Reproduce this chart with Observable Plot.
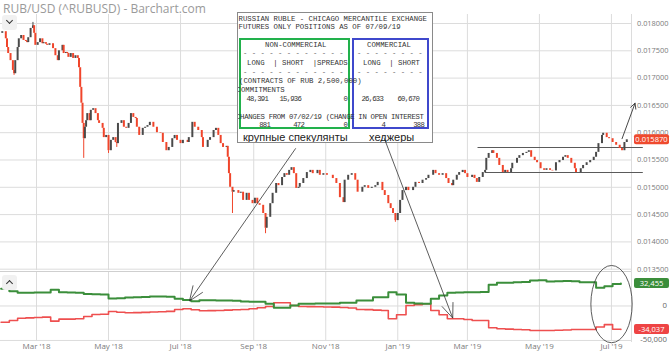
<!DOCTYPE html>
<html><head><meta charset="utf-8">
<script src="https://cdn.jsdelivr.net/npm/d3@7"></script>
<script src="https://cdn.jsdelivr.net/npm/@observablehq/plot@0.6"></script>
<style>
body{margin:0;background:#fff;}
#wrap{position:relative;width:670px;height:351px;overflow:hidden;background:#fff;font-family:"Open Sans",sans-serif;}
#title{position:absolute;left:3px;top:1px;font-size:12px;line-height:16px;color:#9a9a9a;white-space:nowrap;}
#main,#lower{position:absolute;left:0;}
#main{top:0;} #lower{top:270px;}
#overlay{position:absolute;left:0;top:0;pointer-events:none;}
.btn{position:absolute;left:2px;width:15px;height:15px;background:#f1f1f1;border-radius:3px;}
.chev{position:absolute;left:5px;width:4px;height:4px;border-right:1.4px solid #333;border-bottom:1.4px solid #333;}
#cot{position:absolute;left:237px;top:12px;width:194px;height:129px;border:1px solid #8a8a8a;background:#fff;overflow:hidden;font-family:"Liberation Mono",monospace;font-size:7.3px;color:#333;}
#cot span{position:absolute;white-space:pre;line-height:8px;}
#cot .r{transform:translateX(-100%);letter-spacing:-0.8px;}
#cot .box{position:absolute;box-sizing:border-box;border:2px solid;}
#cot .ru{font-family:"Liberation Sans",Arial,sans-serif;font-size:11px;line-height:14px;color:#222;}
#cot .dash{color:#666;}
.ylab{position:absolute;right:3px;font-size:7.8px;line-height:10px;color:#666;white-space:nowrap;z-index:5;}
</style></head>
<body>
<div id="wrap">
  <div id="main"></div>
  <div id="lower"></div>
  <div id="title">RUB/USD (^RUBUSD) - Barchart.com</div>
  <div class="btn" style="top:15px"><div class="chev" style="top:3px;transform:rotate(45deg)"></div></div>
  <div class="btn" style="top:275px"><div class="chev" style="top:6px;transform:rotate(-135deg)"></div></div>
  <div id="cot">
    <div class="box" style="left:1px;top:25px;width:111px;height:91px;border-color:#22b14c"></div>
    <div class="box" style="left:114px;top:25px;width:77px;height:91px;border-color:#3f48cc"></div>
    <span style="left:0.5px;top:1.5px">RUSSIAN RUBLE - CHICAGO MERCANTILE EXCHANGE</span>
    <span style="left:0.5px;top:10px">FUTURES ONLY POSITIONS AS OF 07/09/19</span>
    <span style="left:27px;top:28px">NON-COMMERCIAL</span>
    <span style="left:129px;top:28px">COMMERCIAL</span>
    <span class="dash" style="left:5px;top:36px">- - - - - - - - - - - -</span>
    <span class="dash" style="left:119px;top:36px">- - - - - - - -</span>
    <span style="left:9px;top:46px">LONG  | SHORT  |SPREADS</span>
    <span style="left:125px;top:46px">LONG  | SHORT</span>
    <span class="dash" style="left:5px;top:55px">- - - - - - - - - - - -</span>
    <span class="dash" style="left:119px;top:55px">- - - - - - - -</span>
    <span style="left:1px;top:64px">(CONTRACTS OF RUB 2,500,000)</span>
    <span style="left:-1.5px;top:73px">COMMITMENTS</span>
    <span class="r" style="left:30px;top:82px">48,391</span>
    <span class="r" style="left:63px;top:82px">15,936</span>
    <span class="r" style="left:109px;top:82px">0</span>
    <span class="r" style="left:145px;top:82px">26,633</span>
    <span class="r" style="left:181px;top:82px">60,670</span>
    <span style="left:-2px;top:100px;letter-spacing:-0.3px">CHANGES FROM 07/02/19 (CHANGE IN OPEN INTEREST</span>
    <span class="r" style="left:32px;top:108px">881</span>
    <span class="r" style="left:66px;top:108px">472</span>
    <span class="r" style="left:109px;top:108px">0</span>
    <span class="r" style="left:147px;top:108px">4</span>
    <span class="r" style="left:186px;top:108px">388</span>
    <span class="ru" style="left:5px;top:117px">крупные спекулянты</span>
    <span class="ru" style="left:131px;top:117px">хеджеры</span>
  </div>
  <svg id="overlay" width="670" height="351"></svg>
</div>
<script>
// ---- price candles (closes) ----
const candleDates = ["2018-01-30","2018-01-31","2018-02-03","2018-02-04","2018-02-05","2018-02-07","2018-02-09","2018-02-10","2018-02-11","2018-02-13","2018-02-14","2018-02-16","2018-02-18","2018-02-20","2018-02-21","2018-02-22","2018-02-24","2018-02-26","2018-02-27","2018-02-28","2018-03-02","2018-03-04","2018-03-06","2018-03-07","2018-03-09","2018-03-10","2018-03-12","2018-03-15","2018-03-17","2018-03-19","2018-03-20","2018-03-23","2018-03-24","2018-03-26","2018-03-27","2018-03-28","2018-03-30","2018-04-01","2018-04-03","2018-04-05","2018-04-06","2018-04-07","2018-04-08","2018-04-09","2018-04-10","2018-04-11","2018-04-12","2018-04-13","2018-04-15","2018-04-16","2018-04-18","2018-04-20","2018-04-22","2018-04-23","2018-04-26","2018-04-27","2018-04-29","2018-05-01","2018-05-03","2018-05-05","2018-05-07","2018-05-08","2018-05-09","2018-05-12","2018-05-14","2018-05-16","2018-05-18","2018-05-20","2018-05-22","2018-05-24","2018-05-25","2018-05-27","2018-05-30","2018-06-01","2018-06-03","2018-06-05","2018-06-08","2018-06-11","2018-06-14","2018-06-16","2018-06-19","2018-06-21","2018-06-24","2018-06-26","2018-06-28","2018-07-01","2018-07-03","2018-07-07","2018-07-08","2018-07-11","2018-07-13","2018-07-16","2018-07-19","2018-07-20","2018-07-24","2018-07-26","2018-07-29","2018-07-31","2018-08-02","2018-08-04","2018-08-06","2018-08-09","2018-08-10","2018-08-11","2018-08-12","2018-08-14","2018-08-15","2018-08-17","2018-08-19","2018-08-21","2018-08-23","2018-08-26","2018-08-28","2018-08-31","2018-09-02","2018-09-04","2018-09-06","2018-09-09","2018-09-11","2018-09-12","2018-09-15","2018-09-17","2018-09-20","2018-09-22","2018-09-25","2018-09-27","2018-09-29","2018-10-01","2018-10-03","2018-10-05","2018-10-07","2018-10-09","2018-10-10","2018-10-13","2018-10-16","2018-10-19","2018-10-21","2018-10-25","2018-10-27","2018-10-30","2018-11-02","2018-11-05","2018-11-07","2018-11-10","2018-11-13","2018-11-16","2018-11-17","2018-11-20","2018-11-23","2018-11-26","2018-11-28","2018-12-02","2018-12-04","2018-12-07","2018-12-10","2018-12-13","2018-12-15","2018-12-19","2018-12-21","2018-12-24","2018-12-26","2018-12-28","2018-12-30","2019-01-01","2019-01-03","2019-01-05","2019-01-08","2019-01-10","2019-01-14","2019-01-16","2019-01-19","2019-01-22","2019-01-25","2019-01-27","2019-01-31","2019-02-02","2019-02-05","2019-02-08","2019-02-11","2019-02-13","2019-02-16","2019-02-17","2019-02-20","2019-02-22","2019-02-25","2019-02-27","2019-03-01","2019-03-05","2019-03-07","2019-03-09","2019-03-11","2019-03-14","2019-03-16","2019-03-17","2019-03-19","2019-03-22","2019-03-23","2019-03-26","2019-03-28","2019-03-31","2019-04-02","2019-04-04","2019-04-07","2019-04-08","2019-04-12","2019-04-14","2019-04-17","2019-04-20","2019-04-22","2019-04-24","2019-04-27","2019-04-29","2019-05-02","2019-05-05","2019-05-07","2019-05-10","2019-05-12","2019-05-15","2019-05-18","2019-05-21","2019-05-23","2019-05-25","2019-05-28","2019-05-31","2019-06-01","2019-06-05","2019-06-07","2019-06-10","2019-06-13","2019-06-16","2019-06-18","2019-06-20","2019-06-23","2019-06-24","2019-06-27","2019-06-29","2019-07-02","2019-07-05","2019-07-08","2019-07-10","2019-07-12","2019-07-14"];
const candleClose = [0.01782,0.01785,0.01772,0.01756,0.01745,0.01732,0.01714,0.01708,0.01732,0.01756,0.01772,0.01778,0.01769,0.01767,0.01765,0.01774,0.01791,0.01796,0.01782,0.01760,0.01765,0.01772,0.01763,0.01765,0.01762,0.01760,0.01763,0.01754,0.01741,0.01732,0.01750,0.01760,0.01745,0.01747,0.01745,0.01738,0.01745,0.01736,0.01741,0.01736,0.01719,0.01683,0.01654,0.01617,0.01589,0.01610,0.01622,0.01635,0.01622,0.01641,0.01644,0.01635,0.01622,0.01617,0.01608,0.01591,0.01595,0.01567,0.01586,0.01591,0.01582,0.01580,0.01617,0.01622,0.01610,0.01608,0.01617,0.01635,0.01628,0.01626,0.01610,0.01595,0.01608,0.01610,0.01613,0.01619,0.01610,0.01600,0.01599,0.01582,0.01567,0.01573,0.01589,0.01595,0.01586,0.01580,0.01586,0.01582,0.01591,0.01619,0.01610,0.01604,0.01591,0.01573,0.01586,0.01591,0.01604,0.01608,0.01595,0.01580,0.01573,0.01575,0.01555,0.01525,0.01500,0.01491,0.01494,0.01494,0.01489,0.01491,0.01476,0.01489,0.01476,0.01470,0.01480,0.01470,0.01467,0.01452,0.01425,0.01445,0.01470,0.01489,0.01507,0.01503,0.01518,0.01525,0.01522,0.01531,0.01536,0.01525,0.01498,0.01500,0.01507,0.01516,0.01527,0.01531,0.01525,0.01531,0.01522,0.01525,0.01522,0.01522,0.01516,0.01507,0.01481,0.01472,0.01513,0.01522,0.01525,0.01513,0.01491,0.01500,0.01503,0.01498,0.01500,0.01503,0.01509,0.01494,0.01485,0.01470,0.01461,0.01452,0.01439,0.01452,0.01476,0.01494,0.01500,0.01494,0.01500,0.01509,0.01507,0.01513,0.01516,0.01522,0.01531,0.01525,0.01522,0.01525,0.01516,0.01507,0.01503,0.01513,0.01522,0.01527,0.01531,0.01525,0.01518,0.01522,0.01516,0.01509,0.01518,0.01527,0.01531,0.01553,0.01562,0.01567,0.01562,0.01553,0.01540,0.01527,0.01531,0.01527,0.01534,0.01544,0.01553,0.01558,0.01562,0.01564,0.01567,0.01555,0.01549,0.01545,0.01534,0.01531,0.01534,0.01531,0.01530,0.01545,0.01549,0.01555,0.01558,0.01553,0.01544,0.01534,0.01527,0.01534,0.01540,0.01545,0.01549,0.01555,0.01564,0.01580,0.01595,0.01599,0.01591,0.01589,0.01582,0.01577,0.01571,0.01567,0.01582,0.01587];
// notable wick extremes
const wickDates = ["2018-02-10","2018-02-26","2018-04-10","2018-05-01","2018-05-08","2018-08-14","2018-09-11","2018-12-30"];
const wickValues = [0.01705,0.01802,0.01553,0.01562,0.01573,0.01452,0.01415,0.01436];

// ---- COT weekly net positions ----
const cotDates = ["2018-01-30","2018-02-06","2018-02-13","2018-02-20","2018-02-27","2018-03-06","2018-03-13","2018-03-20","2018-03-27","2018-04-03","2018-04-10","2018-04-17","2018-04-24","2018-05-01","2018-05-08","2018-05-15","2018-05-22","2018-05-29","2018-06-05","2018-06-12","2018-06-19","2018-06-26","2018-07-03","2018-07-10","2018-07-17","2018-07-24","2018-07-31","2018-08-07","2018-08-14","2018-08-21","2018-08-28","2018-09-04","2018-09-11","2018-09-18","2018-09-25","2018-10-02","2018-10-09","2018-10-16","2018-10-23","2018-10-30","2018-11-06","2018-11-13","2018-11-20","2018-11-27","2018-12-04","2018-12-11","2018-12-18","2018-12-24","2018-12-31","2019-01-08","2019-01-15","2019-01-22","2019-01-29","2019-02-05","2019-02-12","2019-02-19","2019-02-26","2019-03-05","2019-03-12","2019-03-19","2019-03-26","2019-04-02","2019-04-09","2019-04-16","2019-04-23","2019-04-30","2019-05-07","2019-05-14","2019-05-21","2019-05-28","2019-06-04","2019-06-11","2019-06-18","2019-06-25","2019-07-02","2019-07-09"];
const nonCommercialNet = [24900,21500,19100,19300,19600,19400,23500,20000,19500,19300,17500,17000,16500,11000,11200,12300,12600,13000,13600,13800,13500,10500,8800,6800,8300,8300,7800,7800,7500,6600,6200,6000,3200,-2600,-2600,700,3200,3200,3500,3500,3600,4600,4600,8000,8000,12500,12800,20000,16500,4600,3500,3200,10400,15200,19100,19500,20000,20000,20300,30700,33600,33800,34500,34800,37000,37200,35500,35700,36200,36000,34500,34500,26400,28700,32046,32455];
const commercialNet = [-23500,-21000,-17700,-17200,-16700,-16200,-22000,-19100,-19000,-18500,-15200,-12300,-12000,-8000,-9000,-9900,-9600,-9300,-8700,-8300,-7800,-5100,-4100,-5500,-7000,-6800,-6500,-6000,-5500,-5000,-4100,-2600,-700,4600,4600,700,-700,-1000,-1200,-1500,-1700,-2200,-3000,-5100,-5300,-6000,-6500,-18600,-12800,700,2000,3200,-6500,-12800,-18600,-18600,-19500,-21000,-21000,-31600,-33100,-33500,-34000,-34500,-35500,-35500,-35500,-35200,-34800,-34100,-34100,-34000,-30500,-27000,-33653,-34037];

// ---- ticks ----
const monthTicks = ["2018-03-01","2018-05-01","2018-07-01","2018-09-01","2018-11-01","2019-01-01","2019-03-01","2019-05-01","2019-07-01"].map(d => new Date(d));
const priceTicks = [0.0135,0.014,0.0145,0.015,0.0155,0.016,0.0165,0.017,0.0175,0.018];
const netTicks = [0,-50000];

// ---- annotation levels ----
const levelValues = [0.015729, 0.015271];
const levelStart = ["2019-03-10","2019-03-16"];
const levelEnd = ["2019-07-28","2019-07-28"];
const trendFrom = {date:"2019-07-10", value:0.01589};
const trendTo = {date:"2019-07-21", value:0.01654};
const labelAnchorDates = ["2018-10-07","2018-12-21"];
const labelAnchorPrices = [0.015705, 0.015888];
const arrowTipDates = ["2018-07-09","2019-02-17"];
const arrowTipNets = [6500,-18300];
const ellipseDates = ["2019-06-14","2019-07-19"];
const ellipseNets = [58000,-54000];

const RED = "#f0452b", DARK = "#4a4a4a", GRID = "#dcdcdc";
const xDomain = [new Date("2018-01-29T12:00Z"), new Date("2019-07-18T00:00Z")];

const candles = candleDates.map((d, i) => ({
  date: new Date(d),
  open: i > 0 ? candleClose[i - 1] : candleClose[0],
  close: candleClose[i]
}));
const closeByDate = new Map(candleDates.map((d, i) => [d, candleClose[i]]));
const wicks = wickDates.map((d, i) => {
  const c = closeByDate.get(d);
  const idx = candleDates.indexOf(d);
  const o = idx > 0 ? candleClose[idx - 1] : c;
  return {date: new Date(d), from: wickValues[i] < c ? Math.min(o, c) : Math.max(o, c), to: wickValues[i], down: c < o};
});
const levels = levelValues.map((v, i) => ({y: v, x1: new Date(levelStart[i]), x2: new Date(levelEnd[i])}));
const cot = cotDates.map((d, i) => ({date: new Date(d), nc: nonCommercialNet[i], c: commercialNet[i]}));

const main = Plot.plot({
  width: 670, height: 270,
  marginTop: 14, marginBottom: 0, marginLeft: 0, marginRight: 39,
  style: {background: "transparent", fontFamily: "Open Sans, sans-serif", overflow: "visible"},
  x: {type: "utc", domain: xDomain, axis: null},
  y: {domain: [0.013476, 0.018165], axis: null},
  marks: [
    Plot.gridX({ticks: monthTicks, stroke: GRID, strokeOpacity: 1}),
    Plot.gridY({ticks: priceTicks, stroke: GRID, strokeOpacity: 1}),
    Plot.frame({anchor: "right", stroke: GRID}),
    Plot.ruleY(levels, {y: "y", x1: "x1", x2: "x2", stroke: "#5a5a5a", strokeWidth: 1.2}),
    Plot.ruleX(wicks, {x: "date", y1: "from", y2: "to", stroke: d => d.down ? RED : DARK, strokeWidth: 1}),
    Plot.ruleX(candles, {x: "date", y1: "open", y2: "close", stroke: d => d.close < d.open ? RED : DARK, strokeWidth: 2}),
    Plot.arrow([0], {x1: () => new Date(trendFrom.date), y1: () => trendFrom.value, x2: () => new Date(trendTo.date), y2: () => trendTo.value, stroke: "#333", strokeWidth: 0.9, headLength: 10, headAngle: 55}),
    Plot.text(priceTicks, {y: d => d, text: d => d.toFixed(6), frameAnchor: "right", textAnchor: "end", dx: 37, fontSize: 7.4, fill: "#7a7a7a"})
  ]
});
document.getElementById("main").append(main);

const lower = Plot.plot({
  width: 670, height: 81,
  marginTop: 1, marginBottom: 10, marginLeft: 0, marginRight: 39,
  style: {background: "transparent", fontFamily: "Open Sans, sans-serif", overflow: "visible"},
  x: {type: "utc", domain: xDomain, axis: null},
  y: {domain: [-51500, 50000], axis: null},
  marks: [
    Plot.gridX({ticks: monthTicks, stroke: GRID, strokeOpacity: 1}),
    Plot.gridY({ticks: netTicks, stroke: GRID, strokeOpacity: 1}),
    Plot.frame({anchor: "top", stroke: "#cfcfcf"}),
    Plot.frame({anchor: "right", stroke: GRID}),
    Plot.line(cot, {x: "date", y: "c", curve: "step-after", stroke: "#ee4f4f", strokeWidth: 1.6}),
    Plot.line(cot, {x: "date", y: "nc", curve: "step-after", stroke: "#3b8e3b", strokeWidth: 2}),
    Plot.text(monthTicks, {x: d => d, text: d => d3.utcFormat("%b '%y")(d), frameAnchor: "bottom", dy: 7, fontSize: 8, fill: "#7a7a7a"})
  ]
});
document.getElementById("lower").append(lower);

// ---- overlay: annotations, lower axis labels & value tags via the charts' scales ----
const mx = main.scale("x"), my = main.scale("y"), lx = lower.scale("x"), ly = lower.scale("y");
const LOFF = 270;
const ov = d3.select("#overlay");
netTicks.forEach(v => {
  d3.select("#wrap").append("div").attr("class", "ylab")
    .style("top", (ly.apply(v) + LOFF - 5.5) + "px")
    .text(v.toLocaleString("en-US"));
});
function arrowTo(x1, y1, x2, y2) {
  ov.append("line").attr("x1", x1).attr("y1", y1).attr("x2", x2).attr("y2", y2).attr("stroke", "#333").attr("stroke-width", 0.8);
  const a = Math.atan2(y1 - y2, x1 - x2);
  for (const s of [-0.38, 0.38]) {
    ov.append("line").attr("x1", x2).attr("y1", y2)
      .attr("x2", x2 + 16 * Math.cos(a + s)).attr("y2", y2 + 16 * Math.sin(a + s))
      .attr("stroke", "#333").attr("stroke-width", 0.8);
  }
}
labelAnchorDates.forEach((d, i) => {
  arrowTo(mx.apply(new Date(d)), my.apply(labelAnchorPrices[i]),
          lx.apply(new Date(arrowTipDates[i])), ly.apply(arrowTipNets[i]) + LOFF);
});
{
  const ex1 = lx.apply(new Date(ellipseDates[0])), ex2 = lx.apply(new Date(ellipseDates[1]));
  const ey1 = ly.apply(ellipseNets[0]) + LOFF, ey2 = ly.apply(ellipseNets[1]) + LOFF;
  ov.append("ellipse").attr("cx", (ex1 + ex2) / 2).attr("cy", (ey1 + ey2) / 2)
    .attr("rx", (ex2 - ex1) / 2).attr("ry", (ey2 - ey1) / 2)
    .attr("fill", "none").attr("stroke", "#333").attr("stroke-width", 0.8);
}
const tagX = mx.range[1] + 3;
function tag(yc, text, fill) {
  ov.append("rect").attr("x", tagX).attr("y", yc - 5).attr("width", 35).attr("height", 10).attr("rx", 2).attr("fill", fill);
  ov.append("text").attr("x", tagX + 17.5).attr("y", yc).attr("dy", "0.35em").attr("text-anchor", "middle")
    .attr("font-family", "Open Sans, sans-serif").attr("font-size", 7.6).attr("fill", "#fff").text(text);
}
const lastClose = candleClose[candleClose.length - 1];
tag(my.apply(lastClose), lastClose.toFixed(6), "#ef4a2e");
const lastNC = nonCommercialNet[nonCommercialNet.length - 1], lastC = commercialNet[commercialNet.length - 1];
tag(ly.apply(lastNC) + LOFF, lastNC.toLocaleString("en-US"), "#3b8e3b");
tag(ly.apply(lastC) + LOFF, lastC.toLocaleString("en-US"), "#ee4444");
</script>
</body></html>
